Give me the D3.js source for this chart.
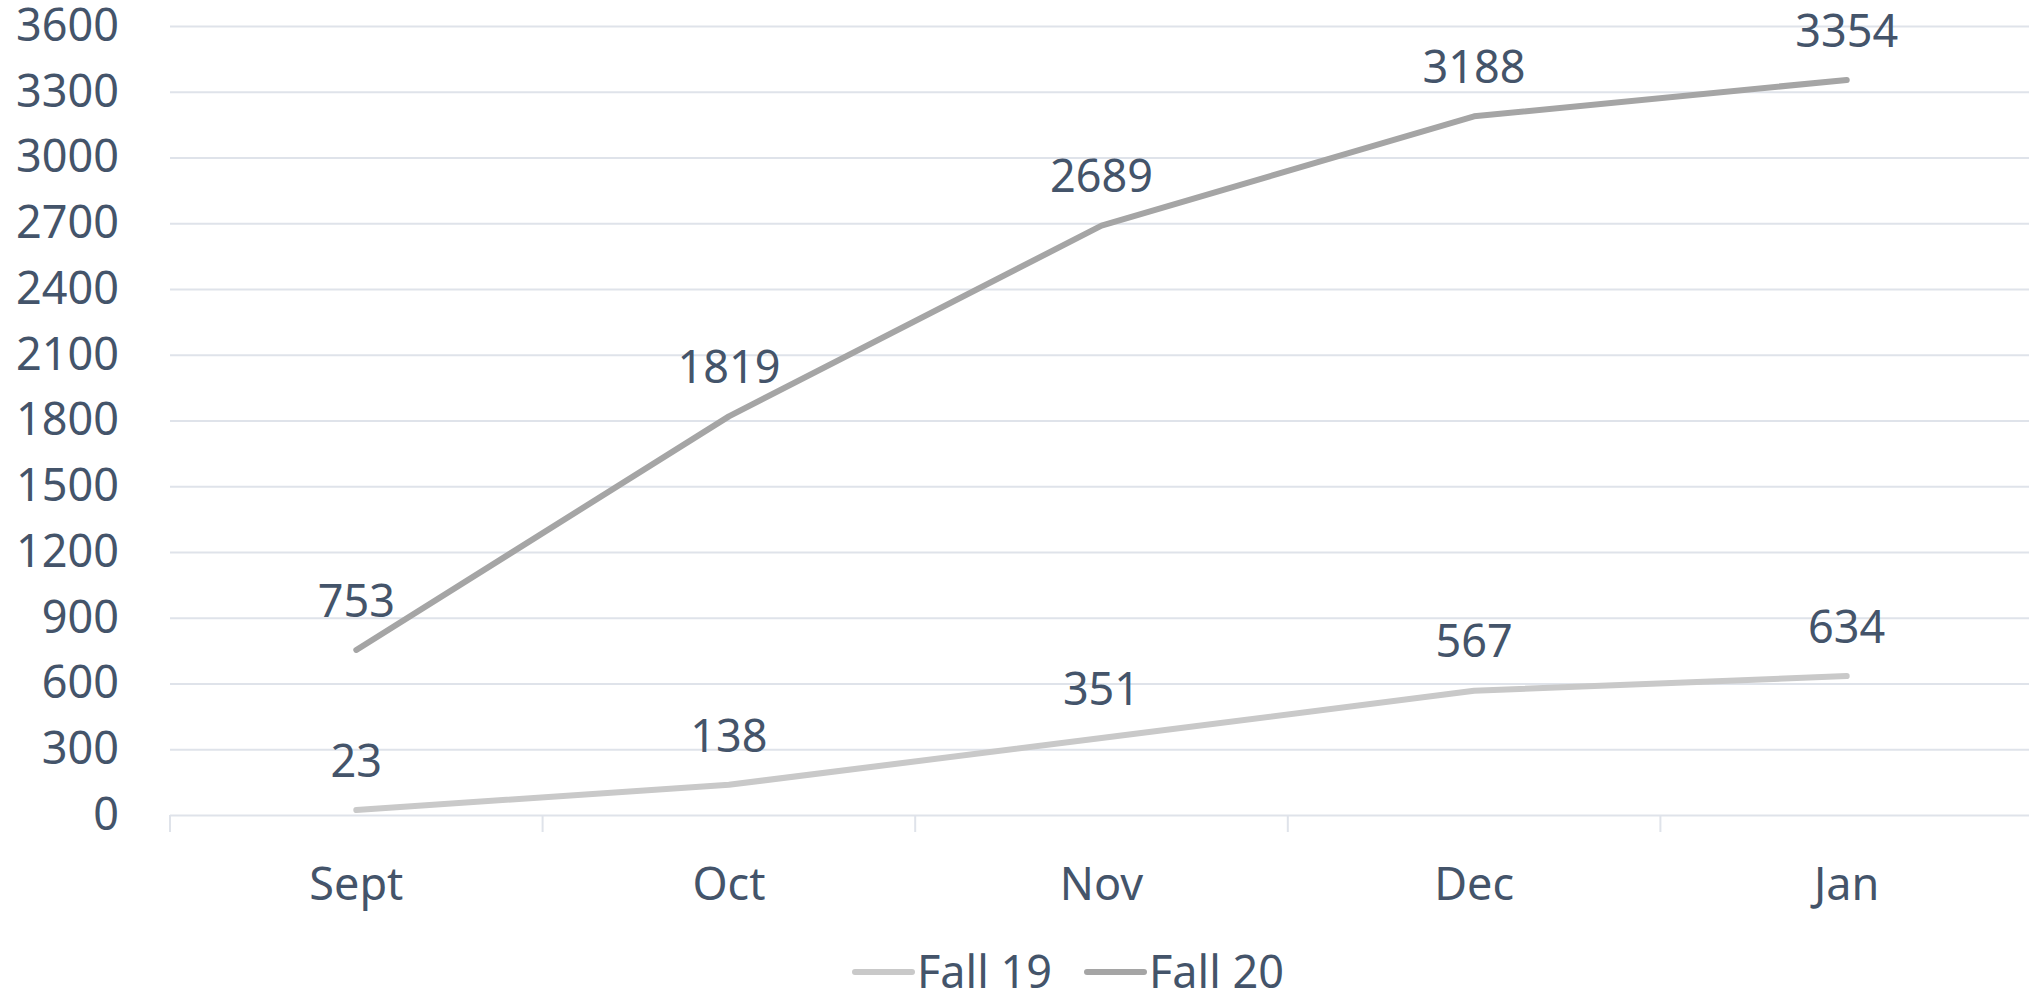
<!DOCTYPE html>
<html>
<head>
<meta charset="utf-8">
<script src="https://cdn.jsdelivr.net/npm/d3@7"></script>
<style>
  html, body { margin: 0; padding: 0; background: #ffffff; }
  svg { display: block; }
</style>
</head>
<body>
<svg id="chart" width="2029" height="995"></svg>
<script>
const categories = ["Sept", "Oct", "Nov", "Dec", "Jan"];
const fall19 = [23, 138, 351, 567, 634];
const fall20 = [753, 1819, 2689, 3188, 3354];
const yTicks = [0, 300, 600, 900, 1200, 1500, 1800, 2100, 2400, 2700, 3000, 3300, 3600];
const seriesNames = ["Fall 19", "Fall 20"];

(function () {
const W = 2029, H = 995;
const pLeft = 170, pRight = 2033, pTop = 26, pBottom = 815;
const textColor = "#44546A";
const gridColor = "#DFE3EA";
const colors = ["#C9C9C9", "#A5A5A5"];
const font = "'Noto Sans', 'Open Sans', sans-serif";
const fs = 45;

const svg = d3.select("#chart");

const x = d3.scaleBand().domain(categories).range([pLeft, pRight]).padding(0);
const y = d3.scaleLinear().domain([0, 3600]).range([pBottom, pTop]);

// gridlines + y labels
const yAxis = d3.axisLeft(y).tickValues(yTicks).tickSize(-(W - pLeft)).tickPadding(51).tickFormat(d3.format("d"));
const gy = svg.append("g").attr("transform", `translate(${pLeft},0)`).call(yAxis);
gy.select(".domain").remove();
gy.selectAll(".tick line").attr("stroke", gridColor).attr("stroke-width", 2);
gy.selectAll(".tick text").attr("fill", textColor).style("font-family", font).style("font-size", fs + "px");

// x axis labels
const xAxis = d3.axisBottom(x).tickSize(0).tickPadding(0);
const gx = svg.append("g").attr("transform", `translate(0,${pBottom})`).call(xAxis);
gx.select(".domain").remove();
gx.selectAll(".tick text").attr("fill", textColor).style("font-family", font).style("font-size", fs + "px")
  .attr("dy", null).attr("y", 85);

// boundary ticks
const bounds = categories.map(c => x(c)).concat([x(categories[categories.length - 1]) + x.bandwidth()]);
svg.append("g").selectAll("line").data(bounds).join("line")
  .attr("x1", d => d).attr("x2", d => d)
  .attr("y1", pBottom).attr("y2", pBottom + 17)
  .attr("stroke", gridColor).attr("stroke-width", 2);

const line = d3.line().x((d, i) => x(categories[i]) + x.bandwidth() / 2).y(d => y(d));
const series = [fall19, fall20];

series.forEach((s, k) => {
  svg.append("path").datum(s).attr("d", line)
    .attr("fill", "none").attr("stroke", colors[k]).attr("stroke-width", 6)
    .attr("stroke-linecap", "round").attr("stroke-linejoin", "round");
});

series.forEach((s, k) => {
  svg.append("g").selectAll("text").data(s).join("text")
    .attr("x", (d, i) => x(categories[i]) + x.bandwidth() / 2)
    .attr("y", d => y(d) - 49)
    .attr("dy", "0.35em")
    .attr("text-anchor", "middle")
    .attr("fill", textColor)
    .style("font-family", font).style("font-size", fs + "px")
    .text(d => d);
});

// legend
const legendX = [855, 1087];
const lg = svg.append("g");
seriesNames.forEach((name, k) => {
  const lx = legendX[k];
  lg.append("line").attr("x1", lx).attr("x2", lx + 57).attr("y1", 972).attr("y2", 972)
    .attr("stroke", colors[k]).attr("stroke-width", 6).attr("stroke-linecap", "round");
  lg.append("text").attr("x", lx + 62).attr("y", 972).attr("dy", "0.35em")
    .attr("fill", textColor).style("font-family", font).style("font-size", fs + "px")
    .text(name);
});
})();
</script>
</body>
</html>
